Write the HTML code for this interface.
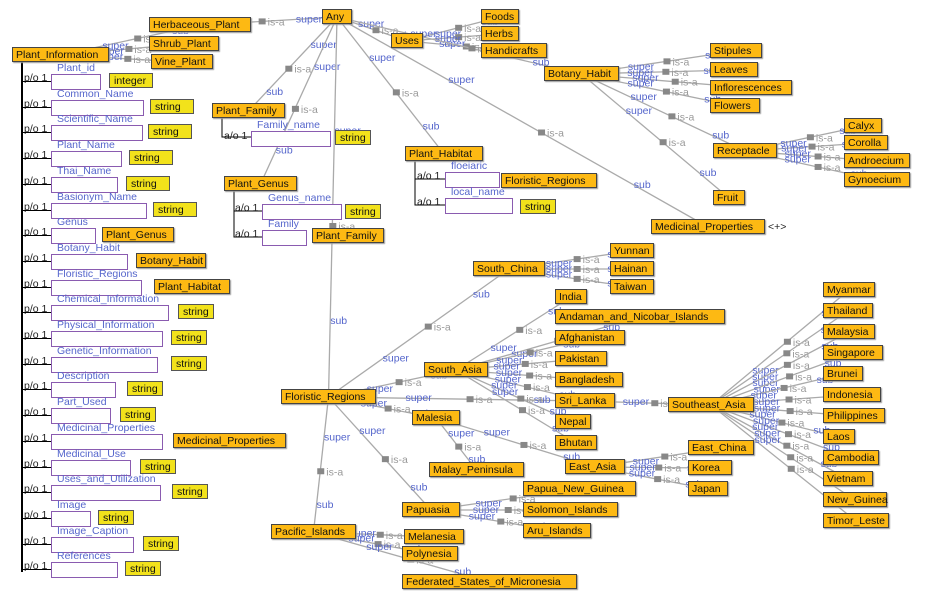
<!DOCTYPE html>
<html><head><meta charset="utf-8"><style>
html,body{margin:0;padding:0;background:#fff;}
#c{position:relative;width:934px;height:600px;overflow:hidden;font-family:"Liberation Sans",sans-serif;font-size:10.5px;}
.n{position:absolute;height:15px;line-height:15px;background:#FDB913;border:1px solid #444;box-sizing:border-box;padding:0 3px;white-space:nowrap;color:#111;box-shadow:1px 1px 1px #999;}
.t{position:absolute;height:15px;line-height:15px;background:#F2E21B;border:1px solid #555;box-sizing:border-box;padding:0 4px;color:#111;}
.p{position:absolute;height:16px;border:1px solid #8a5bb0;background:#fff;box-sizing:border-box;}
.l{position:absolute;color:#5566cc;white-space:nowrap;}
.k{position:absolute;color:#222;white-space:nowrap;}
svg{position:absolute;left:0;top:0;}
</style></head><body><div id="c"><svg id="s" width="934" height="600"></svg></div>
<script>
var N={
Any:[322,10,30],Herb:[149,18,102,"Herbaceous_Plant"],Shrub:[149,37,70,"Shrub_Plant"],Vine:[151,55,62,"Vine_Plant"],PI:[12,48,97,"Plant_Information"],
Uses:[391,34,32],Foods:[481,10,38],Herbs:[481,27,38],Hand:[481,44,66,"Handicrafts"],BH:[544,67,75,"Botany_Habit"],
Stipules:[710,44,52],Leaves:[710,63,48],Infl:[710,81,82,"Inflorescences"],Flowers:[710,99,50],Rec:[713,144,64,"Receptacle"],
Calyx:[844,119,38],Corolla:[844,136,44],Andr:[844,154,66,"Androecium"],Gyn:[844,173,66,"Gynoecium"],Fruit:[713,191,32],
MP:[651,220,114,"Medicinal_Properties"],PF:[212,104,73,"Plant_Family"],PG:[224,177,73,"Plant_Genus"],PH:[405,147,78,"Plant_Habitat"],
SC:[473,262,72,"South_China"],Yunnan:[610,244,44],Hainan:[610,262,44],Taiwan:[610,280,44],
India:[555,290,32],Anda:[555,310,170,"Andaman_and_Nicobar_Islands"],Afg:[555,331,70,"Afghanistan"],Pak:[555,352,52,"Pakistan"],
Bang:[555,373,68,"Bangladesh"],SL:[555,394,60,"Sri_Lanka"],Nepal:[555,415,36],Bhutan:[555,436,42],
SA:[424,363,64,"South_Asia"],FR:[281,390,95,"Floristic_Regions"],Mal:[412,411,48,"Malesia"],MalP:[429,463,95,"Malay_Peninsula"],
EA:[565,460,60,"East_Asia"],EC:[688,441,66,"East_China"],Korea:[688,461,44],Japan:[688,482,40],
PNG:[523,482,113,"Papua_New_Guinea"],Sol:[523,503,95,"Solomon_Islands"],Aru:[523,524,68,"Aru_Islands"],Pap:[402,503,58,"Papuasia"],
Pac:[271,525,85,"Pacific_Islands"],Mel:[404,530,60,"Melanesia"],Pol:[402,547,56,"Polynesia"],FSM:[402,575,175,"Federated_States_of_Micronesia"],
SEA:[668,398,86,"Southeast_Asia"],Myanmar:[823,283,52],Thailand:[823,304,50],Malaysia:[823,325,52],Singapore:[823,346,60],Brunei:[823,367,40],
Indonesia:[823,388,58],Philippines:[823,409,62],Laos:[823,430,32],Cambodia:[823,451,56],Vietnam:[823,472,50],NG:[823,493,64,"New_Guinea"],TL:[823,514,66,"Timor_Leste"]
};
var E=[["PI","Herb"],["PI","Shrub"],["PI","Vine"],["Any","Herb"],["Any","Uses"],["Uses","Foods"],["Uses","Herbs"],["Uses","Hand"],
["Any","PF"],["Any","PG"],["Any","FR"],["Any","PH"],["Any","MP"],["Any","BH"],["BH","Stipules"],["BH","Leaves"],["BH","Infl"],["BH","Flowers"],["BH","Rec"],["BH","Fruit"],
["Rec","Calyx"],["Rec","Corolla"],["Rec","Andr"],["Rec","Gyn"],["FR","Pac"],["FR","SC"],["FR","SA"],["FR","SL"],["FR","Mal"],["FR","Pap"],
["SC","Yunnan"],["SC","Hainan"],["SC","Taiwan"],["SA","India"],["SA","Anda"],["SA","Afg"],["SA","Pak"],["SA","Bang"],["SA","SL"],["SA","Nepal"],["SA","Bhutan"],
["SL","SEA"],["Mal","MalP"],["Mal","EA"],["EA","EC"],["EA","Korea"],["EA","Japan"],["Pap","PNG"],["Pap","Sol"],["Pap","Aru"],
["Pac","Mel"],["Pac","Pol"],["Pac","FSM"],
["SEA","Myanmar"],["SEA","Thailand"],["SEA","Malaysia"],["SEA","Singapore"],["SEA","Brunei"],["SEA","Indonesia"],["SEA","Philippines"],["SEA","Laos"],["SEA","Cambodia"],["SEA","Vietnam"],["SEA","NG"],["SEA","TL"]];
var c=document.getElementById('c'),s=document.getElementById('s'),h='';
function ctr(k){var a=N[k];return [a[0]+a[2]/2,a[1]+7];}
E.forEach(function(e){var a=ctr(e[0]),b=ctr(e[1]);
h+='<line x1="'+a[0]+'" y1="'+a[1]+'" x2="'+b[0]+'" y2="'+b[1]+'" stroke="#aaa" stroke-width="1.3"/>';
var mx=a[0]+(b[0]-a[0])*0.55,my=a[1]+(b[1]-a[1])*0.55;
h+='<rect x="'+(mx-3)+'" y="'+(my-3)+'" width="7" height="6" fill="#888"/>';
h+='<text x="'+(mx+6)+'" y="'+(my+4)+'" fill="#999" font-size="10.5" font-family="Liberation Sans">is-a</text>';
var sx=a[0]+(b[0]-a[0])*0.3,sy=a[1]+(b[1]-a[1])*0.3,tx=a[0]+(b[0]-a[0])*0.8,ty=a[1]+(b[1]-a[1])*0.8;
h+='<text x="'+sx+'" y="'+(sy+3)+'" fill="#5566cc" font-size="10.5" font-family="Liberation Sans">super</text>';
h+='<text x="'+tx+'" y="'+(ty+3)+'" fill="#5566cc" font-size="10.5" font-family="Liberation Sans">sub</text>';});
h+='<line x1="22" y1="62" x2="22" y2="572" stroke="#000" stroke-width="2"/>';
h+='<polyline points="222,118 222,137 251,137" fill="none" stroke="#000"/>';
h+='<polyline points="234,191 234,237 262,237" fill="none" stroke="#000"/><line x1="234" y1="211" x2="262" y2="211" stroke="#000"/>';
h+='<polyline points="415,161 415,205 445,205" fill="none" stroke="#000"/><line x1="415" y1="179" x2="445" y2="179" stroke="#000"/>';
s.innerHTML=h;
var o='';
for(var k in N){var a=N[k];o+='<div class="n" style="left:'+a[0]+'px;top:'+(a[1]-1)+'px;width:'+a[2]+'px">'+(a[3]||k)+'</div>';}
var R=[["Plant_id",50,"integer",109,44],["Common_Name",93,"string",150,44],["Scientific_Name",92,"string",148,44],["Plant_Name",71,"string",129,44],
["Thai_Name",67,"string",126,44],["Basionym_Name",96,"string",153,44],["Genus",45,"Plant_Genus",102,72,1],["Botany_Habit",77,"Botany_Habit",136,70,1],
["Floristic_Regions",91,"Plant_Habitat",154,76,1],["Chemical_Information",118,"string",178,36],["Physical_Information",112,"string",171,36],
["Genetic_Information",107,"string",171,36],["Description",65,"string",127,36],["Part_Used",60,"string",120,36],["Medicinal_Properties",112,"Medicinal_Properties",173,113,1],
["Medicinal_Use",80,"string",140,36],["Uses_and_Utilization",110,"string",172,36],["Image",40,"string",98,36],["Image_Caption",83,"string",143,36],["References",67,"string",125,36]];
R.forEach(function(r,i){var y=Math.round(74+25.7*i);
o+='<div class="k" style="left:24px;top:'+(y-2)+'px">p/o 1</div>';
o+='<div style="position:absolute;left:22px;top:'+(y+7)+'px;width:29px;height:1px;background:#000"></div>';
o+='<div class="l" style="left:57px;top:'+(y-12)+'px">'+r[0]+'</div>';
o+='<div class="p" style="left:51px;top:'+y+'px;width:'+r[1]+'px"></div>';
o+='<div class="'+(r[5]?'n':'t')+'" style="left:'+r[3]+'px;top:'+(y-1)+'px;width:'+r[4]+'px">'+r[2]+'</div>';});
o+='<div class="k" style="left:224px;top:130px">a/o 1</div><div class="l" style="left:257px;top:119px">Family_name</div><div class="p" style="left:251px;top:131px;width:80px"></div><div class="t" style="left:335px;top:130px;width:36px">string</div>';
o+='<div class="k" style="left:235px;top:202px">a/o 1</div><div class="l" style="left:268px;top:192px">Genus_name</div><div class="p" style="left:262px;top:204px;width:80px"></div><div class="t" style="left:345px;top:204px;width:36px">string</div>';
o+='<div class="k" style="left:235px;top:228px">a/o 1</div><div class="l" style="left:268px;top:218px">Family</div><div class="p" style="left:262px;top:230px;width:45px"></div><div class="n" style="left:312px;top:228px;width:72px">Plant_Family</div>';
o+='<div class="k" style="left:417px;top:170px">a/o 1</div><div class="l" style="left:451px;top:160px">floeiaric</div><div class="p" style="left:445px;top:172px;width:55px"></div><div class="n" style="left:501px;top:173px;width:96px">Floristic_Regions</div>';
o+='<div class="k" style="left:417px;top:196px">a/o 1</div><div class="l" style="left:451px;top:186px">local_name</div><div class="p" style="left:445px;top:198px;width:68px"></div><div class="t" style="left:520px;top:199px;width:36px">string</div>';
o+='<div class="k" style="left:768px;top:221px">&lt;+&gt;</div>';
c.insertAdjacentHTML('beforeend',o);
</script></body></html>
